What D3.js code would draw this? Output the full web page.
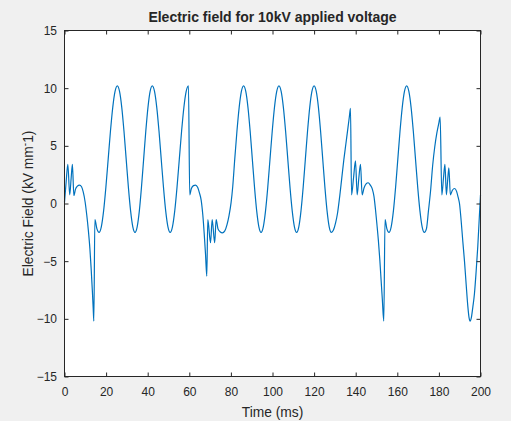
<!DOCTYPE html>
<html><head><meta charset="utf-8">
<script src="https://cdn.jsdelivr.net/npm/d3@7/dist/d3.min.js"></script>
<style>
html,body{margin:0;padding:0;background:#f0f0f0;}
svg{display:block;}
text{font-family:Arial,"Liberation Sans",Helvetica,sans-serif;fill:#262626;}
</style></head><body>
<svg id="chart" width="511" height="421"></svg>
<script>
// ---- data ----
const timeMs = [
  0, 0.8, 1.6, 2.5, 3.2, 3.8, 4.5, 5.3, 6.2, 7.2,
  8.2, 9.0, 9.9, 10.7, 11.5, 12.2, 12.8, 13.4, 13.8, 14.1,
  14.6, 15.6, 16.6, 17.7, 18.8, 19.9, 21.0, 22.1, 23.2, 24.3, 25.4,
  26.46, 27.53, 28.59, 29.65, 30.71, 31.78, 32.84, 33.9,
  34.94, 35.98, 37.01, 38.05, 39.09, 40.13, 41.16, 42.2,
  43.28, 44.35, 45.43, 46.5, 47.58, 48.65, 49.73, 50.8,
  51.9, 53.0, 54.1, 55.2, 56.3, 57.4, 58.5, 59.6,
  60.2, 61.0, 62.0, 63.0, 64.0, 64.9, 65.7, 66.5, 67.2, 67.8, 68.4,
  68.9, 70.2, 71.0, 72.2, 72.9, 73.8, 74.8, 75.9, 77.0, 78.1, 79.1, 80.1, 80.9,
  81.85, 82.91, 83.98, 85.04, 86.1,
  87.15, 88.2, 89.25, 90.3, 91.35, 92.4, 93.45, 94.5,
  95.58, 96.65, 97.73, 98.8, 99.88, 100.95, 102.03, 103.1,
  104.16, 105.23, 106.29, 107.35, 108.41, 109.48, 110.54, 111.6,
  112.65, 113.7, 114.75, 115.8, 116.85, 117.9, 118.95, 120.0,
  121.04, 122.08, 123.11, 124.15, 125.19, 126.23, 127.26, 128.3,
  129.3, 130.3, 131.3, 132.3, 133.3, 134.3, 135.3, 136.3, 137.0, 137.5,
  138.0, 139.0, 139.9, 140.7, 141.5, 142.3, 143.1, 144.0, 145.0, 146.0, 147.0, 148.0,
  148.8, 149.5, 150.2, 150.9, 151.6, 152.2, 152.8, 153.5, 154.1, 155.0, 156.0,
  157.06, 158.13, 159.19, 160.25, 161.31, 162.38, 163.44, 164.5,
  165.56, 166.63, 167.69, 168.75, 169.81, 170.88, 171.94, 173.0,
  174.0, 175.0, 176.0, 177.0, 178.0, 179.0, 180.0, 180.6,
  181.4, 182.2, 182.9, 183.6, 184.2, 184.8, 185.5, 186.5, 187.5, 188.5, 189.3, 189.9,
  190.7, 191.5, 192.3, 193.1, 193.9, 194.5, 195.0, 195.6, 196.3, 197.1, 197.9, 198.7, 199.4, 200.0
];
const fieldKV = [
  0.1, 1.9, 3.4, 0.75, 2.2, 3.4, 0.7, 1.25, 1.5, 1.6,
  1.45, 1.0, 0.15, -1.0, -2.4, -3.9, -5.6, -7.6, -9.1, -10.2,
  -1.4, -2.2, -2.5, -2.02, -0.64, 1.42, 3.85, 6.28, 8.34, 9.72, 10.2,
  9.72, 8.34, 6.28, 3.85, 1.42, -0.64, -2.02, -2.5,
  -2.02, -0.64, 1.42, 3.85, 6.28, 8.34, 9.72, 10.2,
  9.72, 8.34, 6.28, 3.85, 1.42, -0.64, -2.02, -2.5,
  -2.02, -0.64, 1.42, 3.85, 6.28, 8.34, 9.72, 10.2,
  0.75, 1.3, 1.55, 1.6, 1.4, 0.9, 0.3, -1.0, -2.7, -4.4, -6.3,
  -1.4, -3.4, -1.4, -3.4, -1.4, -2.2, -2.45, -2.55, -2.4, -1.85, -1.05, 0.1, 1.5,
  3.85, 6.28, 8.34, 9.72, 10.2,
  9.72, 8.34, 6.28, 3.85, 1.42, -0.64, -2.02, -2.5,
  -2.02, -0.64, 1.42, 3.85, 6.28, 8.34, 9.72, 10.2,
  9.72, 8.34, 6.28, 3.85, 1.42, -0.64, -2.02, -2.5,
  -2.02, -0.64, 1.42, 3.85, 6.28, 8.34, 9.72, 10.2,
  9.72, 8.34, 6.28, 3.85, 1.42, -0.64, -2.02, -2.5,
  -2.3, -1.7, -0.8, 0.6, 2.2, 3.8, 5.2, 6.6, 7.6, 8.25,
  0.75, 2.3, 3.7, 0.75, 2.2, 3.4, 0.75, 1.35, 1.7, 1.8, 1.6, 1.25,
  0.6, -0.5, -1.8, -3.2, -4.9, -6.6, -8.3, -10.2, -1.4, -2.2, -2.5,
  -2.02, -0.64, 1.42, 3.85, 6.28, 8.34, 9.72, 10.2,
  9.72, 8.34, 6.28, 3.85, 1.42, -0.64, -2.02, -2.5,
  -2.2, -0.6, 1.1, 3.3, 4.9, 6.1, 7.0, 7.5,
  0.75, 2.2, 3.4, 0.75, 2.0, 3.1, 0.75, 1.15, 1.3, 1.05, 0.5, 0.0,
  -1.5, -3.3, -5.0, -7.0, -8.9, -9.9, -10.2, -9.9, -9.0, -7.8, -5.9, -3.7, -1.3, 0.75
];
const xTickValues = [0, 20, 40, 60, 80, 100, 120, 140, 160, 180, 200];
const yTickValues = [-15, -10, -5, 0, 5, 10, 15];
const xDomain = [0, 200];
const yDomain = [-15, 15];
const titleText = "Electric field for 10kV applied voltage";
const xLabelText = "Time (ms)";

// ---- drawing ----
const svg = d3.select("#chart");
const L = 64.5, R = 480.5, T = 30.5, B = 376.5;
const x = d3.scaleLinear().domain(xDomain).range([L, R]);
const y = d3.scaleLinear().domain(yDomain).range([B, T]);
const axisColor = "#262626";

svg.append("rect").attr("x", L).attr("y", T).attr("width", R - L).attr("height", B - T)
  .attr("fill", "#ffffff");

const points = timeMs.map((t, i) => [t, fieldKV[i]]);
const line = d3.line().x(d => x(d[0])).y(d => y(d[1])).curve(d3.curveMonotoneX);
svg.append("path").datum(points).attr("d", line)
  .attr("fill", "none").attr("stroke", "#0072bd").attr("stroke-width", 1.2)
  .attr("stroke-linejoin", "round");

function styleAxis(g) {
  g.select(".domain").remove();
  g.selectAll(".tick line").attr("stroke", axisColor);
  g.selectAll(".tick text").attr("fill", axisColor).style("font-size", "12px")
    .style("font-family", "Arial, 'Liberation Sans', Helvetica, sans-serif");
}
svg.append("g").attr("transform", `translate(0,${B})`)
  .call(d3.axisBottom(x).tickValues(xTickValues).tickSizeInner(-4).tickSizeOuter(0).tickPadding(11))
  .call(styleAxis);
svg.append("g").attr("transform", `translate(0,${T})`)
  .call(d3.axisTop(x).tickValues(xTickValues).tickSizeInner(-4).tickSizeOuter(0).tickFormat(""))
  .call(styleAxis);
svg.append("g").attr("transform", `translate(${L},0)`)
  .call(d3.axisLeft(y).tickValues(yTickValues).tickSizeInner(-4).tickSizeOuter(0).tickPadding(7.5))
  .call(styleAxis);
svg.append("g").attr("transform", `translate(${R},0)`)
  .call(d3.axisRight(y).tickValues(yTickValues).tickSizeInner(-4).tickSizeOuter(0).tickFormat(""))
  .call(styleAxis);

svg.append("rect").attr("x", L).attr("y", T).attr("width", R - L).attr("height", B - T)
  .attr("fill", "none").attr("stroke", axisColor).attr("stroke-width", 1);

svg.append("text").attr("x", (L + R) / 2).attr("y", 22).attr("text-anchor", "middle")
  .style("font-size", "14px").style("font-weight", "bold").attr("fill", "#000")
  .text(titleText);

svg.append("text").attr("x", (L + R) / 2).attr("y", 416.5).attr("text-anchor", "middle")
  .style("font-size", "13.8px").text(xLabelText);

const yl = svg.append("text").attr("transform", `translate(32.5,${(T + B) / 2}) rotate(-90)`)
  .attr("text-anchor", "middle").style("font-size", "13.8px");
yl.append("tspan").text("Electric Field (kV mm");
yl.append("tspan").attr("dy", -5).style("font-size", "10px").text("-");
yl.append("tspan").attr("dy", 5).text("1)");
</script>
</body></html>
